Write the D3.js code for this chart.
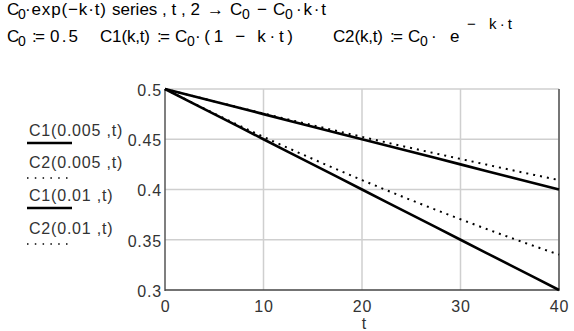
<!DOCTYPE html>
<html>
<head>
<meta charset="utf-8">
<script src="https://cdn.jsdelivr.net/npm/d3@7"></script>
<style>
  body { margin: 0; background: #fff; }
  svg { display: block; font-family: "Liberation Sans", Arial, sans-serif; }
</style>
</head>
<body>
<svg id="chart" width="574" height="331"></svg>
<script>
/* data */
const tValues = [0, 5, 10, 15, 20, 25, 30, 35, 40];
const c1k005 = [0.5, 0.4875, 0.475, 0.4625, 0.45, 0.4375, 0.425, 0.4125, 0.4];
const c2k005 = [0.5, 0.4877, 0.4756, 0.4639, 0.4524, 0.4412, 0.4304, 0.4197, 0.4094];
const c1k01 = [0.5, 0.475, 0.45, 0.425, 0.4, 0.375, 0.35, 0.325, 0.3];
const c2k01 = [0.5, 0.4756, 0.4524, 0.4304, 0.4094, 0.3894, 0.3704, 0.3523, 0.3352];
const xTicks = [0, 10, 20, 30, 40];
const yTicks = [0.3, 0.35, 0.4, 0.45, 0.5];
const legendLabels = ["C1(0.005 ,t)", "C2(0.005 ,t)", "C1(0.01 ,t)", "C2(0.01 ,t)"];

const svg = d3.select("#chart");

/* plot box */
const box = { left: 165, right: 559, top: 89, bottom: 290 };

const x = d3.scaleLinear().domain([0, 40]).range([box.left, box.right]);
const y = d3.scaleLinear().domain([0.3, 0.5]).range([box.bottom, box.top]);

/* header formulas, one text per piece: [text, x, width, kind] */
function piece(s, xPos, base, w, kind) {
    const t = svg.append("text")
        .attr("x", xPos)
        .attr("y", base + (kind === "sub" ? 4 : kind === "sup" ? -13 : 0))
        .attr("font-size", kind === "sub" ? 14 : kind === "sup" ? 15 : 17)
        .attr("fill", "#000")
        .text(s);
    if (w) t.attr("textLength", w).attr("lengthAdjust", "spacing");
}

const line1 = [
    ["C", 7], ["0", 18, 0, "sub"], ["·exp(−k·t)", 25, 81],
    ["series , t , 2", 112],
    ["→", 207, 20],
    ["C", 230], ["0", 242, 0, "sub"], ["−", 257, 11], ["C", 273], ["0", 285, 0, "sub"], ["·k·t", 296, 30]
];
const line2 = [
    ["C", 7], ["0", 18, 0, "sub"], [":=", 32, 13], ["0.5", 50, 28],
    ["C1(k,t)", 100, 50], [":=", 157, 13], ["C", 175], ["0", 187, 0, "sub"], ["·(1 − k·t)", 195, 98],
    ["C2(k,t)", 333, 50], [":=", 390, 13], ["C", 408], ["0", 420, 0, "sub"], ["·", 431], ["e", 450],
    ["−", 467, 11, "sup"], ["k·t", 489, 23, "sup"]
];
line1.forEach(p => piece(p[0], p[1], 15, p[2], p[3]));
line2.forEach(p => piece(p[0], p[1], 42, p[2], p[3]));

/* grid */
const grid = svg.append("g").attr("stroke", "#cfcfcf").attr("stroke-width", 1.5);
grid.selectAll("line.gx").data(xTicks.slice(1))
    .enter().append("line")
    .attr("x1", d => x(d)).attr("x2", d => x(d))
    .attr("y1", box.top).attr("y2", box.bottom);
grid.selectAll("line.gy").data(yTicks.slice(1))
    .enter().append("line")
    .attr("x1", box.left).attr("x2", box.right)
    .attr("y1", d => y(d)).attr("y2", d => y(d));

/* axes */
const yAxis = d3.axisLeft(y).tickValues(yTicks).tickSize(0).tickPadding(3).tickFormat(d => String(d));
const xAxis = d3.axisBottom(x).tickValues(xTicks).tickSize(0).tickPadding(11).tickFormat(d => String(d));

const gy = svg.append("g").attr("transform", "translate(" + box.left + ",0)").call(yAxis);
const gx = svg.append("g").attr("transform", "translate(0," + box.bottom + ")").call(xAxis);
[gx, gy].forEach(g => {
    g.select(".domain").remove();
    g.selectAll("text")
        .attr("font-size", 16)
        .attr("letter-spacing", 0.8)
        .attr("font-family", "'Liberation Sans', Arial, sans-serif")
        .attr("fill", "#333");
});
gy.selectAll("text").attr("dy", "0.4em");

svg.append("line").attr("x1", box.left).attr("x2", box.left).attr("y1", box.top).attr("y2", box.bottom + 1)
    .attr("stroke", "#555").attr("stroke-width", 1.5);
svg.append("line").attr("x1", box.right).attr("x2", box.right).attr("y1", box.top).attr("y2", box.bottom + 1)
    .attr("stroke", "#555").attr("stroke-width", 1.5);
svg.append("line").attr("x1", box.left).attr("x2", box.right).attr("y1", box.bottom).attr("y2", box.bottom)
    .attr("stroke", "#444").attr("stroke-width", 1.5);

svg.append("text")
    .attr("x", (box.left + box.right) / 2 + 2)
    .attr("y", 329)
    .attr("text-anchor", "middle")
    .attr("font-size", 16)
    .attr("fill", "#333")
    .text("t");

/* series */
const series = [
    { vals: c2k005, dotted: true },
    { vals: c2k01, dotted: true },
    { vals: c1k005, dotted: false },
    { vals: c1k01, dotted: false }
];

const line = d3.line()
    .x((d, i) => x(tValues[i]))
    .y(d => y(d))
    .curve(d3.curveMonotoneX);

svg.selectAll("path.series").data(series)
    .enter().append("path")
    .attr("class", "series")
    .attr("d", d => line(d.vals))
    .attr("fill", "none")
    .attr("stroke", "#000")
    .attr("stroke-width", d => d.dotted ? 2 : 2.6)
    .attr("stroke-dasharray", d => d.dotted ? "2,5" : null);

/* legend */
const legendY = [136, 168, 201, 234];
const lg = svg.append("g");
legendLabels.forEach((label, i) => {
    lg.append("text")
        .attr("x", 29)
        .attr("y", legendY[i])
        .attr("font-size", 16)
        .attr("letter-spacing", 0.8)
        .attr("fill", "#333")
        .text(label);
    lg.append("line")
        .attr("x1", 27).attr("x2", i % 2 === 0 ? 72 : 69)
        .attr("y1", legendY[i] + (i % 2 === 0 ? 7 : 10))
        .attr("y2", legendY[i] + (i % 2 === 0 ? 7 : 10))
        .attr("stroke", "#000")
        .attr("stroke-width", i % 2 === 0 ? 2.5 : 1.5)
        .attr("stroke-dasharray", i % 2 === 0 ? null : "1.5,6.3");
});
</script>
</body>
</html>
